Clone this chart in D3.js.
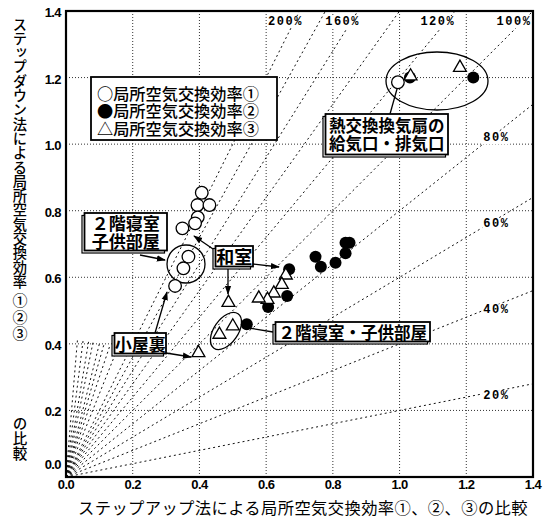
<!DOCTYPE html>
<html>
<head>
<meta charset="utf-8">
<script src="https://cdn.jsdelivr.net/npm/d3@7/dist/d3.min.js"></script>
<style>
  html, body { margin: 0; padding: 0; background: #fff; }
  svg { display: block; }
  .jp { font-family: "Noto Sans CJK JP", "Noto Sans", sans-serif; }
  .num { font-family: "Liberation Sans", Arial, sans-serif; font-weight: bold; }
  .pct { font-family: "Liberation Mono", "DejaVu Sans Mono", monospace; font-weight: bold; }
</style>
</head>
<body>
<svg id="chart" width="544" height="525"></svg>
<script>
// ---- data ----
const axisTicks = [0, 0.2, 0.4, 0.6, 0.8, 1.0, 1.2, 1.4];

// 局所空気交換効率① (open circles): step-up value, step-down value
const eff1X = [0.407, 0.394, 0.430, 0.395, 0.387, 0.349, 0.367, 0.352, 0.327, 0.995];
const eff1Y = [0.854, 0.817, 0.817, 0.780, 0.762, 0.747, 0.662, 0.627, 0.574, 1.186];

// 局所空気交換効率② (filled circles)
const eff2X = [0.669, 0.663, 0.606, 0.748, 0.764, 0.808, 0.838, 0.838, 0.850, 0.542, 1.031, 1.221];
const eff2Y = [0.624, 0.544, 0.511, 0.662, 0.632, 0.644, 0.672, 0.704, 0.704, 0.459, 1.200, 1.200];

// 局所空気交換効率③ (triangles)
const eff3X = [0.659, 0.647, 0.623, 0.604, 0.578, 0.487, 0.500, 0.460, 0.397, 1.181, 1.033];
const eff3Y = [0.606, 0.578, 0.552, 0.533, 0.537, 0.524, 0.453, 0.428, 0.373, 1.230, 1.204];

const legendLabels = ["○局所空気交換効率①", "●局所空気交換効率②", "△局所空気交換効率③"];

// ratio guide lines (step-down / step-up)
const ratioLines = [0.2, 0.4, 0.6, 0.8, 1.0, 1.2, 1.4, 1.6, 1.8, 2.0];
const steepRatios = [2.5, 3, 3.5, 4, 5, 6, 8, 12];
const ratioLabelsSide = [0.2, 0.4, 0.6, 0.8];      // labelled at the right side
const ratioLabelsTop = [1.0, 1.2, 1.6, 2.0];       // labelled along the top

const xTitle = "ステップアップ法による局所空気交換効率①、②、③の比較";
const yTitleParts = ["ステップダウン法による局所空気交換効率", "①②③", "の比較"];

// ---- layout ----
const svg = d3.select("#chart");
const x = d3.scaleLinear().domain([0, 1.4]).range([66, 533]);
const y = d3.scaleLinear().domain([0, 1.4]).range([477, 11]);

const defs = svg.append("defs");
defs.append("clipPath").attr("id", "plotClip")
  .append("rect").attr("x", 66).attr("y", 11).attr("width", 467).attr("height", 466);
defs.append("marker").attr("id", "arrow").attr("viewBox", "0 0 10 10")
  .attr("refX", 9).attr("refY", 5).attr("markerWidth", 7).attr("markerHeight", 7)
  .attr("orient", "auto-start-reverse")
  .append("path").attr("d", "M0,1.5 L10,5 L0,8.5 Z").attr("fill", "#000");

const plot = svg.append("g").attr("clip-path", "url(#plotClip)");

// grid
const inner = axisTicks.filter(t => t > 0 && t < 1.4);
plot.selectAll(".vgrid").data(inner).join("line")
  .attr("x1", d => x(d)).attr("x2", d => x(d)).attr("y1", y(0)).attr("y2", y(1.4))
  .attr("stroke", "#333").attr("stroke-width", 1).attr("stroke-dasharray", "1,2");
plot.selectAll(".hgrid").data(inner).join("line")
  .attr("x1", x(0)).attr("x2", x(1.4)).attr("y1", d => y(d)).attr("y2", d => y(d))
  .attr("stroke", "#333").attr("stroke-width", 1).attr("stroke-dasharray", "1,2");

// ratio lines from the origin
const endOf = k => k <= 1 ? [1.4, 1.4 * k] : [1.4 / k, 1.4];
plot.selectAll(".ratio").data(ratioLines).join("line")
  .attr("x1", x(0)).attr("y1", y(0))
  .attr("x2", d => x(endOf(d)[0])).attr("y2", d => y(endOf(d)[1]))
  .attr("stroke", "#111").attr("stroke-width", 1).attr("stroke-dasharray", "2,3");
// short steep rays, ending on an arc around the origin
const steepR = 0.42;
plot.selectAll(".steep").data(steepRatios).join("line")
  .attr("x1", x(0)).attr("y1", y(0))
  .attr("x2", d => x(steepR / Math.sqrt(1 + d * d)))
  .attr("y2", d => y(d * steepR / Math.sqrt(1 + d * d)))
  .attr("stroke", "#111").attr("stroke-width", 1).attr("stroke-dasharray", "2,3");

// ratio labels
const pctText = k => Math.round(k * 100) + "%";
function pctLabel(px, py, text) {
  const g = svg.append("g");
  const t = g.append("text").attr("class", "pct").attr("x", px).attr("y", py)
    .attr("text-anchor", "middle").attr("dominant-baseline", "central")
    .attr("font-size", 12).attr("letter-spacing", 1.5).text(text);
  const bb = t.node().getBBox();
  g.insert("rect", "text").attr("x", bb.x - 1).attr("y", bb.y + 1)
    .attr("width", bb.width + 2).attr("height", bb.height - 2).attr("fill", "#fff");
}
ratioLabelsSide.forEach(k => pctLabel(x(1.29), y(1.29 * k) + 5, pctText(k)));
ratioLabelsTop.forEach(k => pctLabel(x(1.37 / k) - 9, y(1.37) + 1, pctText(k)));

// frame
svg.append("rect").attr("x", 66).attr("y", 11).attr("width", 467).attr("height", 466)
  .attr("fill", "none").attr("stroke", "#000").attr("stroke-width", 2.2);

// tick labels
svg.selectAll(".xt").data(axisTicks).join("text").attr("class", "num")
  .attr("x", d => x(d)).attr("y", 489).attr("text-anchor", "middle")
  .attr("font-size", 13).attr("letter-spacing", -0.6).text(d => d.toFixed(1));
svg.selectAll(".yt").data(axisTicks).join("text").attr("class", "num")
  .attr("x", 61).attr("y", d => d === 0 ? 469 : y(d) + 6).attr("text-anchor", "end")
  .attr("font-size", 13).attr("letter-spacing", -0.6).text(d => d.toFixed(1));

// axis titles
svg.append("text").attr("class", "jp").attr("x", 303).attr("y", 514)
  .attr("text-anchor", "middle").attr("font-size", 16.3).attr("letter-spacing", 0.4)
  .text(xTitle);
// vertical y title in three runs: [top, font size, extra spacing]
const yTitlePos = [[17, 14.3, 0], [293, 15, 1.5], [416, 14.5, 0.5]];
yTitleParts.forEach((s, i) => {
  svg.append("text").attr("class", "jp")
    .attr("x", 20).attr("y", yTitlePos[i][0])
    .attr("font-size", yTitlePos[i][1]).attr("font-weight", 500)
    .attr("letter-spacing", yTitlePos[i][2])
    .style("writing-mode", "vertical-rl").style("text-orientation", "upright")
    .text(s);
});

// annotation shapes and boxes (under the markers)
const ann = svg.append("g");
ann.append("ellipse").attr("cx", 437).attr("cy", 81).attr("rx", 51).attr("ry", 29)
  .attr("fill", "none").attr("stroke", "#000").attr("stroke-width", 1.3);
ann.append("circle").attr("cx", 186).attr("cy", 264).attr("r", 19)
  .attr("fill", "none").attr("stroke", "#000").attr("stroke-width", 1.3);
ann.append("ellipse").attr("cx", 226).attr("cy", 331).attr("rx", 21).attr("ry", 12)
  .attr("transform", "rotate(-55 226 331)")
  .attr("fill", "none").attr("stroke", "#000").attr("stroke-width", 1.3);

// leader lines
const leaders = [
  [390, 114, 397, 89, false],
  [140, 255, 165, 260, true],
  [213, 249, 194, 236, true],
  [253, 264, 279, 267, true],
  [228, 268, 228, 294, true],
  [155, 333, 167, 292, true],
  [166, 353, 191, 357, true],
  [273, 332, 249, 328, false]
];
leaders.forEach(([x1, y1, x2, y2, head]) => {
  const l = ann.append("line").attr("x1", x1).attr("y1", y1).attr("x2", x2).attr("y2", y2)
    .attr("stroke", "#000").attr("stroke-width", 1.3);
  if (head) l.attr("marker-end", "url(#arrow)");
});

// framed text box; "shadow" draws the offset second outline at lower-left
function box(x0, y0, w, h, lines, size, weight, opts) {
  opts = opts || {};
  const s = opts.shadow ? 2.5 : 0;
  if (s) {
    ann.append("rect").attr("x", x0).attr("y", y0 + s).attr("width", w - s).attr("height", h - s)
      .attr("fill", "#fff").attr("stroke", "#000").attr("stroke-width", 1.2);
  }
  ann.append("rect").attr("x", x0 + s).attr("y", y0).attr("width", w - s).attr("height", h - s)
    .attr("fill", "#fff").attr("stroke", "#000").attr("stroke-width", 1.8);
  const lh = opts.lh || size * 1.05;
  const cx = x0 + s + (w - s) / 2;
  const top = (opts.cy || (y0 + (h - s) / 2)) - (lines.length - 1) * lh / 2;
  const t = ann.append("text").attr("class", "jp")
    .attr("text-anchor", opts.anchor || "middle")
    .attr("font-size", size).attr("font-weight", weight);
  lines.forEach((str, i) => {
    t.append("tspan")
      .attr("x", opts.anchor === "start" ? x0 + 6 : cx)
      .attr("y", top + i * lh).attr("dominant-baseline", "central").text(str);
  });
}
box(91, 77, 186, 63, legendLabels, 16.2, 500, { anchor: "start", lh: 17.5, cy: 110 });
box(323, 114, 125, 43, ["熱交換換気扇の", "給気口・排気口"], 16.5, 700, { shadow: true, lh: 18 });
box(82, 213, 85, 40, ["２階寝室", "子供部屋"], 17, 700, { shadow: true, lh: 18 });
box(213, 246, 40, 23, ["和室"], 18, 700, { shadow: true });
box(112, 333, 54, 23, ["小屋裏"], 17, 700, { shadow: true });
box(273, 322, 157, 22, ["２階寝室・子供部屋"], 16.5, 700, { shadow: true });

// markers
const pts = (xs, ys) => xs.map((v, i) => [v, ys[i]]);
const mk = svg.append("g");
mk.selectAll(".s1").data(pts(eff1X, eff1Y)).join("circle")
  .attr("cx", d => x(d[0])).attr("cy", d => y(d[1])).attr("r", 6.3)
  .attr("fill", "#fff").attr("stroke", "#000").attr("stroke-width", 1.3);
mk.selectAll(".s2").data(pts(eff2X, eff2Y)).join("circle")
  .attr("cx", d => x(d[0])).attr("cy", d => y(d[1])).attr("r", 6)
  .attr("fill", "#000");
const tri = d3.symbol().type(d3.symbolTriangle).size(72);
mk.selectAll(".s3").data(pts(eff3X, eff3Y)).join("path")
  .attr("d", tri).attr("transform", d => `translate(${x(d[0])},${y(d[1])})`)
  .attr("fill", "#fff").attr("stroke", "#000").attr("stroke-width", 1.3);
</script>
</body>
</html>
